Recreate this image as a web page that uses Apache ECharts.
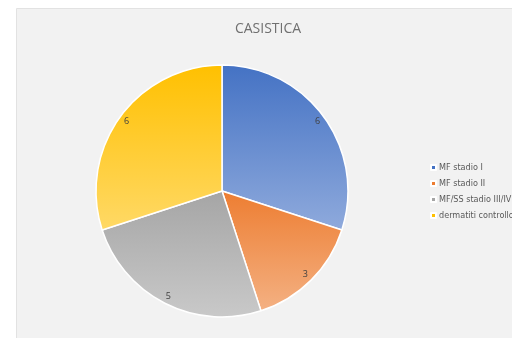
<!DOCTYPE html>
<html>
<head>
<meta charset="utf-8">
<script src="https://cdn.jsdelivr.net/npm/echarts@6/dist/echarts.min.js"></script>
<style>
html,body{margin:0;padding:0;background:#fff;}
#c{width:512px;height:338px;}
</style>
</head>
<body>
<div id="c"></div>
<script>
const categories = ['MF stadio I', 'MF stadio II', 'MF/SS stadio III/IV', 'dermatiti controllo'];
const values = [6, 3, 5, 6];
const titleText = 'CASISTICA';
const topColors = ['#4472C4', '#ED7D31', '#A5A5A5', '#FFC000'];
const bottomColors = ['#8FAADC', '#F4B183', '#C9C9C9', '#FFD966'];

const chart = echarts.init(document.getElementById('c'), null, {renderer: 'canvas'});

function grad(i) {
  return new echarts.graphic.LinearGradient(0, 0, 0, 1, [
    {offset: 0, color: topColors[i]},
    {offset: 1, color: bottomColors[i]}
  ]);
}

const pieData = categories.map((n, i) => ({
  name: n, value: values[i],
  itemStyle: {color: grad(i)}
}));
const labelData = categories.map((n, i) => ({name: n, value: values[i]}));

chart.setOption({
  backgroundColor: '#ffffff',
  animation: false,
  graphic: [{
    type: 'rect', z: -10, silent: true,
    shape: {x: 16.5, y: 8.5, width: 510, height: 345},
    style: {fill: '#f2f2f2', stroke: '#e2e2e2', lineWidth: 1}
  }],
  title: {
    text: titleText,
    left: 263, top: 17, textAlign: 'center',
    textStyle: {fontFamily: 'Open Sans', fontSize: 14, fontWeight: 'normal', color: '#707070'}
  },
  legend: {
    orient: 'vertical',
    left: 425, top: 158,
    itemWidth: 5, itemHeight: 5, itemGap: 7,
    icon: 'rect',
    data: categories.map((n, i) => ({name: n, itemStyle: {color: topColors[i]}})),
    textStyle: {fontFamily: '"Liberation Sans Narrow", "DejaVu Sans Condensed", sans-serif', fontSize: 9, color: '#595959', padding: [0, 0, 0, -2]}
  },
  series: [{
    type: 'pie',
    center: [222, 191],
    radius: [0, 126],
    startAngle: 90,
    clockwise: true,
    label: {show: false},
    labelLine: {show: false},
    itemStyle: {borderColor: '#ffffff', borderWidth: 1.5},
    emphasis: {disabled: true},
    data: pieData
  }, {
    type: 'pie',
    center: [222, 191],
    radius: [104, 126],
    startAngle: 90,
    clockwise: true,
    silent: true,
    legendHoverLink: false,
    itemStyle: {color: 'rgba(0,0,0,0)', borderWidth: 0},
    label: {
      show: true, position: 'inside', formatter: '{c}',
      fontFamily: 'Open Sans', fontSize: 9, color: '#404040'
    },
    labelLine: {show: false},
    emphasis: {disabled: true},
    data: labelData
  }]
});
</script>
</body>
</html>
